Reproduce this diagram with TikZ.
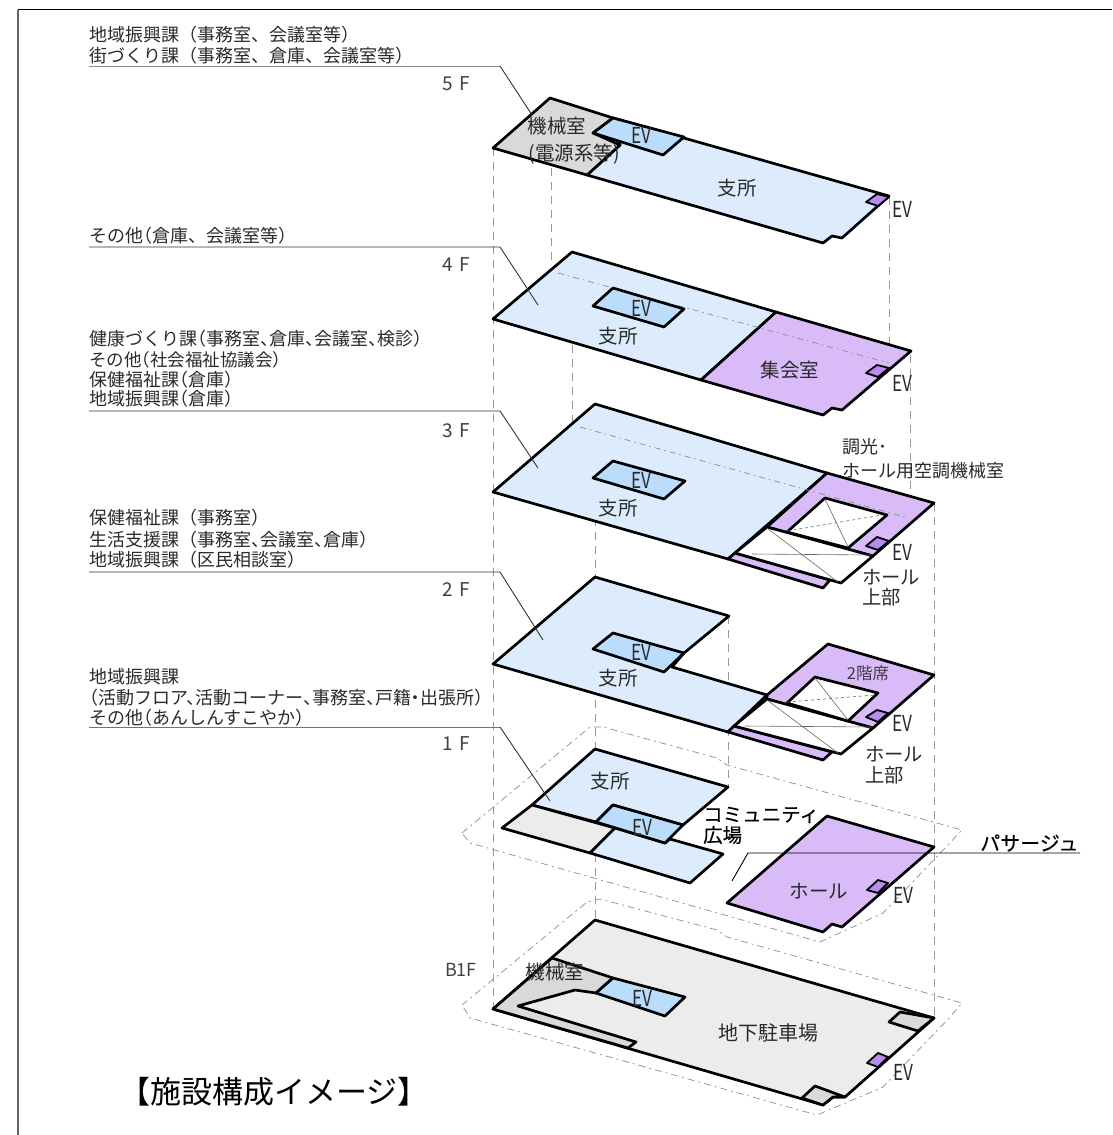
\documentclass[tikz,border=0pt]{standalone}
\usepackage{fontspec}
\usepackage{graphicx}
\setmainfont{Noto Sans CJK JP}
\definecolor{blueL}{HTML}{DDECFD}
\definecolor{blueE}{HTML}{BCDCFB}
\definecolor{purp}{HTML}{D9BBF8}
\definecolor{purpE}{HTML}{B78CEE}
\definecolor{grayM}{HTML}{D9D9D9}
\definecolor{grayL}{HTML}{ECECEC}
\definecolor{txt}{HTML}{2A2A2A}
\newcommand\sz[1]{\fontsize{#1pt}{#1pt}\selectfont}
\newcommand\EVt{\scalebox{.78}[1]{EV}}
\newcommand\kL{\kern-.5em（}
\newcommand\kC{、\kern-.5em}
\newcommand\kD{\kern-.25em・\kern-.25em}
\tikzset{
  wall/.style={draw=black,line width=2.7pt,line join=round},
  evbox/.style={draw=black,line width=1.8pt,line join=round,fill=purpE},
  vdash/.style={draw=black!40,line width=.9pt,dash pattern=on 8pt off 6pt},
  site/.style={draw=black!45,line width=.7pt,dash pattern=on 7pt off 4pt on 2pt off 4pt},
  faint/.style={draw=black!45,line width=.7pt,dash pattern=on 6pt off 4pt on 1.5pt off 4pt},
  leader/.style={draw=black!80,line width=.9pt},
  thin1/.style={draw=black!60,line width=.6pt},
  lab/.style={anchor=west,inner sep=0pt,text=txt,font=\sz{18}},
  ctr/.style={anchor=center,inner sep=0pt,text=txt},
  floorname/.style={anchor=center,inner sep=0pt,text=black!75,font=\sz{19}},
  evl/.style={anchor=center,inner sep=0pt,text=txt,font=\sz{22}},
  rm/.style={anchor=center,inner sep=0pt,text=txt,font=\sz{19.5}}
}
\begin{document}
\begin{tikzpicture}[x=1pt,y=-1pt]
\useasboundingbox (0,0) rectangle (1112,1135);
% frame
\coordinate (fA) at (18,1135); \coordinate (fB) at (18,9.5); \coordinate (fC) at (1112,9.5);
\draw[draw=black!60,line width=1.2pt] (fA) -- (fB);
\draw[draw=black,line width=1.2pt] (fB) -- (fC);
% vertical projection lines
\draw[vdash] (493,148) -- (493,1009);
\draw[vdash] (551,168) -- (551,262);
\draw[vdash] (572,345) -- (572,424);
\draw[vdash] (595,518) -- (595,922);
\draw[vdash] (728,616) -- (728,787);
\draw[vdash] (889,197) -- (889,368);
\draw[vdash] (910.5,355) -- (910.5,525);
\draw[vdash] (934,503) -- (934,1018);
% site outlines
\draw[site] (462,833) -- (590,727) -- (603,727) -- (717,758) -- (727,765) -- (962,830) -- (945,848) -- (883,913) -- (820,942) -- (470,843) -- cycle;
\draw[site] (462,1005) -- (587,902) -- (600,899) -- (717,930) -- (727,937) -- (962,1003) -- (950,1017) -- (883,1087) -- (817,1115) -- (470,1018) -- cycle;
% 5F
\draw[wall,fill=blueL] (613,118) -- (889,196) -- (842,238) -- (832,236) -- (823,243) -- (587,175) -- (620,145) -- cycle;
\draw[wall,fill=grayM] (550,98) -- (613,118) -- (593,133) -- (620,145) -- (587,175) -- (493,148) -- cycle;
\draw[wall,fill=blueE] (613,118) -- (684,137) -- (663,155) -- (593,133) -- cycle;
\draw[evbox] (877,194) -- (889,197) -- (878,206) -- (866,202) -- cycle;
% 4F
\draw[wall,fill=blueL] (572,252) -- (776,312) -- (701,380) -- (493,319) -- cycle;
\draw[wall,fill=purp] (776,312) -- (911,351) -- (842,410) -- (832,408) -- (823,415) -- (701,380) -- cycle;
\draw[faint] (558,273) -- (889,363);
\draw[wall,fill=blueE] (613,288) -- (684,309) -- (664,327) -- (593,306) -- cycle;
\draw[evbox] (877,365) -- (889,368) -- (878,377) -- (866,373) -- cycle;
% 3F
\draw[wall,fill=blueL] (595,404) -- (827,473) -- (728,559) -- (493,492) -- cycle;
\draw[wall,fill=purp] (827,473) -- (934,503) -- (873,556) -- (767,527) -- cycle;
\draw[faint] (580,427) -- (905,517);
\draw[wall,fill=blueE] (613,461) -- (685,481) -- (664,499) -- (593,478) -- cycle;
\draw[wall,fill=purp] (728,559) -- (735,553) -- (830,580) -- (823,588) -- cycle;
\draw[wall,fill=white] (767,527) -- (873,556) -- (841,583) -- (735,553) -- cycle;
\draw[wall,fill=white] (825,498) -- (887,515) -- (848,548) -- (787,532) -- cycle;
\draw[thin1] (825,499) -- (848,547);
\draw[thin1,dashed] (787,531) -- (882,515);
\draw[thin1] (767,528) -- (838,582);
\draw[thin1] (752,554) -- (872,555);
\draw[evbox] (877,537) -- (889,541) -- (878,550) -- (866,546) -- cycle;
% 2F
\draw[wall,fill=blueL] (595,577) -- (729,616) -- (684,653) -- (672,667) -- (767,695) -- (728,732) -- (493,664) -- cycle;
\draw[wall,fill=blueE] (613,633) -- (684,653) -- (664,672) -- (593,649) -- cycle;
\draw[wall,fill=purp] (767,695) -- (828,644) -- (934,675) -- (873,728) -- (767,699) -- cycle;
\draw[wall,fill=purp] (728,732) -- (734,726) -- (832,752) -- (823,760) -- cycle;
\draw[wall,fill=white] (767,699) -- (873,728) -- (841,754) -- (734,726) -- cycle;
\draw[wall,fill=white] (815,677) -- (878,693) -- (848,721) -- (787,703) -- cycle;
\draw[thin1] (815,678) -- (848,720);
\draw[thin1,dashed] (787,702) -- (875,695);
\draw[thin1] (767,700) -- (838,753);
\draw[thin1] (745,726) -- (872,727);
\draw[evbox] (877,710) -- (888,713) -- (878,722) -- (866,717) -- cycle;
% 1F
\draw[wall,fill=blueL] (595,749) -- (728,787) -- (683,825) -- (613,805) -- (596,822) -- (532,805) -- cycle;
\draw[wall,fill=grayL] (532,805) -- (502,828) -- (590,853) -- (615,828) -- cycle;
\draw[wall,fill=blueL] (615,828) -- (665,843) -- (670,839) -- (723,854) -- (690,883) -- (590,853) -- cycle;
\draw[wall,fill=blueE] (613,805) -- (683,825) -- (665,843) -- (596,822) -- cycle;
\draw[wall,fill=purp] (827,816) -- (934,847) -- (842,927) -- (832,924) -- (823,932) -- (727,903) -- cycle;
\draw[evbox] (878,880) -- (888,883) -- (878,893) -- (867,890) -- cycle;
% B1F
\draw[wall,fill=grayL] (595,920) -- (934,1018) -- (845,1097) -- (833,1097) -- (823,1105) -- (493,1009) -- cycle;
\draw[wall,fill=grayM] (552,958) -- (613,978) -- (596,993) -- (575,990) -- (518,1006) -- (636,1042) -- (628,1048) -- (493,1009) -- cycle;
\draw[wall,fill=blueE] (613,978) -- (685,997) -- (665,1016) -- (596,993) -- cycle;
\draw[wall,fill=grayM] (900,1012) -- (934,1018) -- (918,1031) -- (889,1022) -- cycle;
\draw[wall,fill=grayM] (815,1086) -- (845,1097) -- (833,1097) -- (823,1105) -- (802,1098) -- cycle;
\draw[evbox] (878,1053) -- (888,1057) -- (878,1067) -- (867,1063) -- cycle;
% leaders
\coordinate (a5) at (89,66); \coordinate (b5) at (500,66); \coordinate (c5) at (532,115);
\coordinate (a4) at (89,247); \coordinate (b4) at (500,247); \coordinate (c4) at (538,305);
\coordinate (a3) at (89,411); \coordinate (b3) at (500,411); \coordinate (c3) at (538,468);
\coordinate (a2) at (89,572); \coordinate (b2) at (500,572); \coordinate (c2) at (543,640);
\coordinate (a1) at (89,727); \coordinate (b1) at (500,727); \coordinate (c1) at (550,801);
\coordinate (ap) at (1080,853); \coordinate (bp) at (748,853); \coordinate (cp) at (732,881);
\draw[leader,draw=black!45] (a5) -- (b5); \draw[leader] (b5) -- (c5);
\draw[leader] (a4) -- (b4) -- (c4);
\draw[leader] (a3) -- (b3) -- (c3);
\draw[leader] (a2) -- (b2) -- (c2);
\draw[leader,draw=black!55] (a1) -- (b1); \draw[leader] (b1) -- (c1);
\draw[leader,draw=black] (ap) -- (bp) -- (cp);
% left labels
\node[lab] (t1) at (89,35) {地域振興課（事務室、会議室等）};
\node[lab] (t2) at (89,56) {街づくり課（事務室、倉庫、会議室等）};
\node[lab] (t3) at (89,236) {その他\kL 倉庫、会議室等）};
\node[lab] (t4) at (89,339) {健康づくり課\kL 事務室\kC 倉庫\kC 会議室\kC 検診）};
\node[lab,font=\sz{17.5}] (t5) at (89,360) {その他\kL 社会福祉協議会）};
\node[lab] (t6) at (89,380) {保健福祉課\kL 倉庫）};
\node[lab] (t7) at (89,399) {地域振興課\kL 倉庫）};
\node[lab] (t8) at (89,518) {保健福祉課（事務室）};
\node[lab] (t9) at (89,540) {生活支援課（事務室\kC 会議室\kC 倉庫）};
\node[lab] (t10) at (89,560) {地域振興課（区民相談室）};
\node[lab] (t11) at (89,677) {地域振興課};
\node[lab] (t12) at (89,698) {\kL 活動フロア\kC 活動コーナー\kC 事務室\kC 戸籍\kD 出張所）};
\node[lab] (t13) at (89,718) {その他\kL あんしんすこやか）};
% floor names
\node[floorname] (f5) at (456,84) {5\,\,F};
\node[floorname] (f4) at (456,265) {4\,\,F};
\node[floorname] (f3) at (456,431) {3\,\,F};
\node[floorname] (f2) at (456,590) {2\,\,F};
\node[floorname] (f1) at (456,744) {1\,\,F};
\node[floorname,font=\sz{18}] (fb) at (461,970) {B1F};
% 5F text
\node[rm] (r1) at (557,126) {機械室};
\node[rm] (r2) at (574,154) {(電源系等)};
\node[evl] (e1) at (641,135) {\EVt};
\node[rm] (r3) at (737,188) {支所};
\node[evl] (e2) at (902,209) {\EVt};
% 4F text
\node[evl] (e3) at (641,308) {\EVt};
\node[rm] (r4) at (618,336) {支所};
\node[rm] (r5) at (790,370) {集会室};
\node[evl] (e4) at (902,383) {\EVt};
% 3F text
\node[evl] (e5) at (641,480) {\EVt};
\node[rm] (r6) at (618,508) {支所};
\node[evl] (e6) at (902,552) {\EVt};
\node[lab] (r7) at (842,447) {調光･};
\node[lab] (r8) at (842,471) {ホール用空調機械室};
\node[lab,font=\sz{19.3}] (r9) at (862,577) {ホール};
\node[lab,font=\sz{19.3}] (r10) at (862,597) {上部};
% 2F text
\node[evl] (e7) at (641,652) {\EVt};
\node[rm] (r11) at (618,678) {支所};
\node[ctr,font=\sz{16.5},text=black!70!purp] (r12) at (868,673) {2階席};
\node[evl] (e8) at (902,723) {\EVt};
\node[lab,font=\sz{19.3}] (r13) at (865,754) {ホール};
\node[lab,font=\sz{19.3}] (r14) at (865,775) {上部};
% 1F text
\node[rm] (r15) at (610,781) {支所};
\node[evl] (e9) at (642,827) {\EVt};
\node[lab,font=\sz{19.5}\addfontfeature{FakeBold=0.4},text=black] (r16) at (703,815) {コミュニティ};
\node[lab,font=\sz{19.5}\addfontfeature{FakeBold=0.4},text=black] (r17) at (703,835) {広場};
\node[rm] (r18) at (819,891) {ホール};
\node[evl] (e10) at (903,895) {\EVt};
\node[lab,font=\sz{20}\addfontfeature{FakeBold=0.4},text=black] (r19) at (980,843) {パサージュ};
% B1F text
\node[rm] (r20) at (555,972) {機械室};
\node[evl] (e11) at (642,998) {\EVt};
\node[ctr,font=\sz{20}] (r21) at (768,1033) {地下駐車場};
\node[evl] (e12) at (903,1072) {\EVt};
% title
\node[ctr,font=\sz{31},text=black] (ttl) at (274,1092) {【施設構成イメージ】};
\end{tikzpicture}
\end{document}
